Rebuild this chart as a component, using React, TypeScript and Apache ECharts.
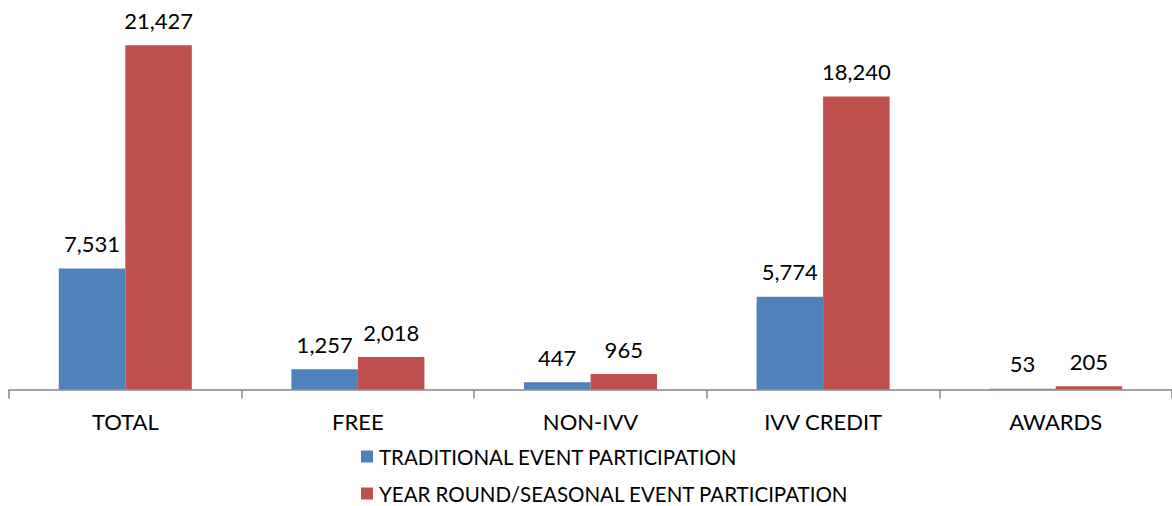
import React, { useEffect, useRef } from "react";
import * as echarts from "echarts";

const categories = ["TOTAL", "FREE", "NON-IVV", "IVV CREDIT", "AWARDS"];
const traditional = [7531, 1257, 447, 5774, 53];
const yearRound = [21427, 2018, 965, 18240, 205];
const seriesNames = ["TRADITIONAL EVENT PARTICIPATION", "YEAR ROUND/SEASONAL EVENT PARTICIPATION"];

const FONT = "Lato, 'Noto Sans', sans-serif";

export default function App() {
  const ref = useRef<HTMLDivElement>(null);
  useEffect(() => {
    document.body.style.margin = "0";
    document.body.style.overflow = "hidden";
    const chart = echarts.init(ref.current!, undefined, { renderer: "svg" });
    const label = {
      show: true,
      position: "top" as const,
      distance: 14,
      color: "#000",
      fontSize: 22,
      fontFamily: FONT,
      formatter: (p: any) => Number(p.value).toLocaleString("en-US"),
    };
    const legendBase = {
      orient: "horizontal" as const,
      left: 361,
      padding: 0,
      itemWidth: 12,
      itemHeight: 12,
      icon: "rect",
      textStyle: { fontSize: 20.5, fontFamily: FONT, color: "#000", padding: [0, 0, 0, 1] },
    };
    chart.setOption({
      animation: false,
      backgroundColor: "#fff",
      grid: { left: 9, right: -7, top: 0, bottom: 116.5, containLabel: false },
      legend: [
        { ...legendBase, top: 446, data: [seriesNames[0]] },
        { ...legendBase, top: 483, data: [seriesNames[1]] },
      ],
      xAxis: {
        type: "category",
        data: categories,
        axisLine: { lineStyle: { color: "#868686", width: 1.5 } },
        axisTick: { show: true, length: 9, lineStyle: { color: "#868686", width: 1.5 } },
        axisLabel: { color: "#000", fontSize: 22, fontFamily: FONT, margin: 21 },
      },
      yAxis: {
        type: "value",
        min: 0,
        max: 24250,
        show: false,
        splitLine: { show: false },
      },
      series: [
        {
          name: seriesNames[0],
          type: "bar",
          data: traditional,
          barWidth: "28.6%",
          barGap: "0%",
          itemStyle: { color: "#4F81BD" },
          label,
        },
        {
          name: seriesNames[1],
          type: "bar",
          data: yearRound,
          barWidth: "28.6%",
          barGap: "0%",
          itemStyle: { color: "#C0504D" },
          label,
        },
      ],
    });
    return () => chart.dispose();
  }, []);
  return <div ref={ref} style={{ width: 1172, height: 506 }} />;
}
